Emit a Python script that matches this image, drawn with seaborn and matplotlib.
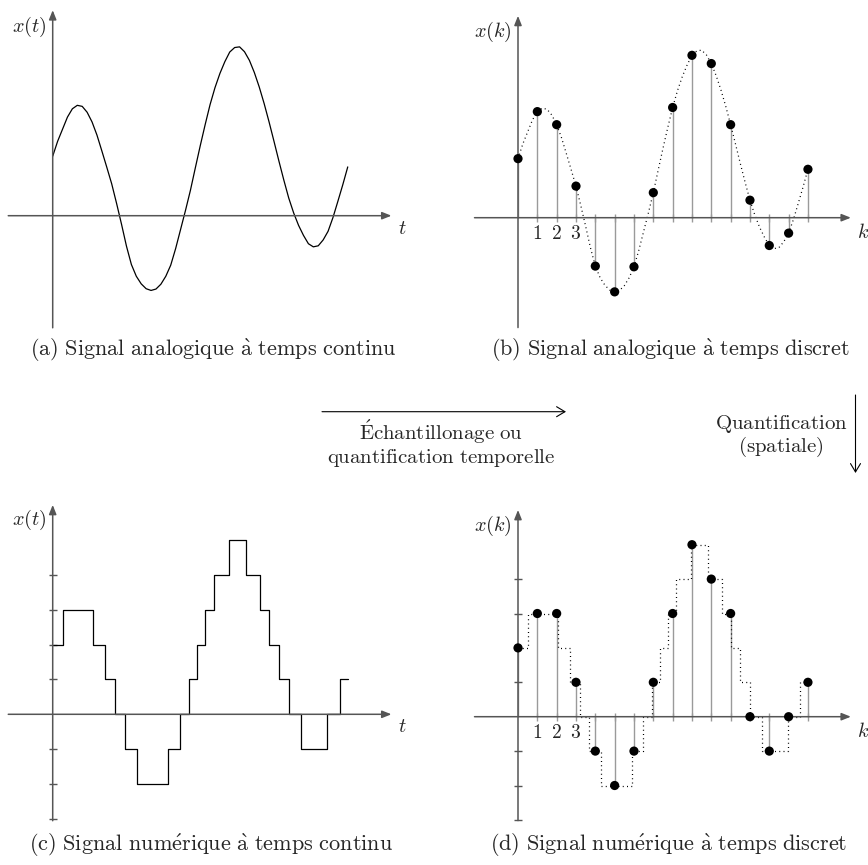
"""
Quatre vues d'un signal : analogique/numérique, temps continu/discret.
"""

import matplotlib
matplotlib.use("Agg")
import matplotlib.pyplot as plt
import seaborn as sns
import pandas as pd

curve_t = [0, 0.25, 0.5, 0.75, 1, 1.25, 1.5, 1.75, 2, 2.25, 2.5, 2.75, 3, 3.25, 3.5,
           3.75, 4, 4.25, 4.5, 4.75, 5, 5.25, 5.5, 5.75, 6, 6.25, 6.5, 6.75, 7, 7.25,
           7.5, 7.75, 8, 8.25, 8.5, 8.75, 9, 9.25, 9.5, 9.75, 10, 10.25, 10.5, 10.75,
           11, 11.25, 11.5, 11.75, 12, 12.25, 12.5, 12.75, 13, 13.25, 13.5, 13.75, 14,
           14.25, 14.5, 14.75, 15]
curve_x = [1.72, 2.15, 2.50, 2.85, 3.09, 3.19, 3.16, 2.99, 2.71, 2.33, 1.87, 1.40, 0.92,
           0.35, -0.25, -0.88, -1.41, -1.75, -1.97, -2.11, -2.16, -2.12, -1.98, -1.75,
           -1.43, -0.95, -0.40, 0.15, 0.73, 1.38, 2.02, 2.63, 3.21, 3.70, 4.11, 4.45,
           4.73, 4.86, 4.88, 4.74, 4.49, 4.14, 3.72, 3.24, 2.71, 2.15, 1.58, 1.03, 0.51,
           0.08, -0.28, -0.57, -0.81, -0.90, -0.87, -0.70, -0.45, -0.05, 0.42, 0.90, 1.41]

# Échantillons x(k)
samples_k = [0, 1, 2, 3, 4, 5, 6, 7, 8, 9, 10, 11, 12, 13, 14, 15]
samples_x = [1.72, 3.09, 2.71, 0.92, -1.41, -2.16, -1.43, 0.73, 3.21, 4.73, 4.49,
             2.71, 0.51, -0.81, -0.45, 1.41]
samples_q = [2, 3, 3, 1, -1, -2, -1, 1, 3, 5, 4, 3, 0, -1, 0, 1]

# Signal quantifié à temps continu (instants de changement de niveau)
steps_t = [0, 0.51, 2.07, 2.68, 3.19, 3.69, 4.27, 5.88, 6.47, 6.93, 7.36, 7.75, 8.19,
           8.95, 9.81, 10.54, 11.02, 11.49, 12.0, 12.63, 13.95, 14.59, 15.0]
steps_q = [2, 3, 2, 1, 0, -1, -2, -1, 0, 1, 2, 3, 4, 5, 4, 3, 2, 1, 0, -1, 0, 1, 1]

level_ticks = [-3, -2, -1, 1, 2, 3, 4]
k_labels = ["1", "2", "3"]

captions = [
    r"$\mathrm{(a)\ Signal\ analogique\ \grave{a}\ temps\ continu}$",
    r"$\mathrm{(b)\ Signal\ analogique\ \grave{a}\ temps\ discret}$",
    r"$\mathrm{(c)\ Signal\ num\acute{e}rique\ \grave{a}\ temps\ continu}$",
    r"$\mathrm{(d)\ Signal\ num\acute{e}rique\ \grave{a}\ temps\ discret}$",
]
sampling_label = (r"$\mathrm{\acute{E}chantillonage\ ou}$" + "\n"
                  + r"$\mathrm{quantification\ temporelle}$")
quant_label = r"$\mathrm{Quantification}$" + "\n" + r"$\mathrm{(spatiale)}$"

W, H = 868, 865
AXIS_GREY = "#555555"
STEM_GREY = "#9a9a9a"
LABEL_FS = 14.5
CAPTION_FS = 16
ARROW_FS = 15
TICK_FS = 14


def make_panel(fig, box, origin, scale):
    """Axes sans cadre ; box en pixels (gauche, haut, droite, bas)."""
    l, t, r, b = box
    ax = fig.add_axes([l / W, 1 - b / H, (r - l) / W, (b - t) / H])
    lims = ((l - origin[0]) / scale[0], (r - origin[0]) / scale[0],
            (origin[1] - b) / scale[1], (origin[1] - t) / scale[1])
    ax.axis("off")
    return ax, lims


def draw_axes(ax, x_from, x_to, y_from, y_to):
    style = dict(arrowstyle="-|>,head_length=0.55,head_width=0.22", color=AXIS_GREY,
                 lw=1.1, shrinkA=0, shrinkB=0, mutation_scale=10)
    ax.annotate("", xy=(x_to, 0), xytext=(x_from, 0), arrowprops=style)
    ax.annotate("", xy=(0, y_to), xytext=(0, y_from), arrowprops=style)


def label_k(ax):
    # numéros 1, 2, 3 sous l'axe des k
    for i, lab in enumerate(k_labels):
        ax.annotate("$" + lab + "$", xy=(samples_k[i + 1], 0), xytext=(0, -12.0),
                    textcoords="offset points", ha="center", va="center", fontsize=TICK_FS)


def finish(ax, lims):
    ax.set_xlim(lims[0], lims[1])
    ax.set_ylim(lims[2], lims[3])


def main():
    sns.set_theme(style="white")
    plt.rcParams["mathtext.fontset"] = "cm"
    plt.rcParams["font.family"] = ["DejaVu Serif"]

    fig = plt.figure(figsize=(W / 100, H / 100), dpi=100)
    over = fig.add_axes([0, 0, 1, 1])
    over.set_xlim(0, W)
    over.set_ylim(H, 0)
    over.axis("off")

    curve = pd.DataFrame({"t": curve_t, "x": curve_x})
    samples = pd.DataFrame({"k": samples_k, "x": samples_x, "q": samples_q})
    steps = pd.DataFrame({"t": steps_t, "q": steps_q})

    # (a) analogique, temps continu
    sa = (19.67, 34.6)
    ax_a, lim_a = make_panel(fig, (0, 0, 434, 335), (52.7, 215.7), sa)
    draw_axes(ax_a, -2.26, 17.22, -3.24, 5.94)
    sns.lineplot(data=curve, x="t", y="x", ax=ax_a, color="black", lw=0.9,
                 estimator=None, sort=False)
    finish(ax_a, lim_a)

    # (b) analogique, temps discret
    sb = (19.33, 34.33)
    ax_b, lim_b = make_panel(fig, (434, 0, 868, 335), (518, 217.7), sb)
    draw_axes(ax_b, -2.25, 17.22, -3.2, 5.88)
    sns.lineplot(data=curve, x="t", y="x", ax=ax_b, color="black", lw=0.9,
                 linestyle=(0, (0.8, 2.6)), estimator=None, sort=False)
    ax_b.vlines(samples["k"], 0, samples["x"], color=STEM_GREY, lw=1.0, zorder=1)
    ax_b.vlines(samples["k"][1:], -4 / sb[1], 4 / sb[1], color=STEM_GREY, lw=1.0, zorder=1)
    sns.scatterplot(data=samples, x="k", y="x", ax=ax_b, color="black", s=44,
                    edgecolor="none", zorder=5)
    label_k(ax_b)
    finish(ax_b, lim_b)

    # (c) numérique, temps continu
    sc = (19.67, 34.9)
    ax_c, lim_c = make_panel(fig, (0, 475, 434, 830), (52.7, 714.3), sc)
    draw_axes(ax_c, -2.26, 17.22, -3.05, 6.0)
    ax_c.hlines(level_ticks, -4 / sc[0], 4 / sc[0], color=AXIS_GREY, lw=1.0)
    sns.lineplot(data=steps, x="t", y="q", ax=ax_c, color="black", lw=0.9,
                 drawstyle="steps-post", estimator=None, sort=False)
    finish(ax_c, lim_c)

    # (d) numérique, temps discret
    sd = (19.33, 34.4)
    ax_d, lim_d = make_panel(fig, (434, 475, 868, 830), (518, 716.7), sd)
    draw_axes(ax_d, -2.25, 17.22, -3.02, 6.01)
    ax_d.hlines(level_ticks, -4 / sd[0], 4 / sd[0], color=AXIS_GREY, lw=1.0)
    sns.lineplot(data=steps, x="t", y="q", ax=ax_d, color="black", lw=0.9,
                 linestyle=(0, (0.8, 2.6)), drawstyle="steps-post",
                 estimator=None, sort=False)
    ax_d.vlines(samples["k"], 0, samples["q"], color=STEM_GREY, lw=1.0, zorder=1)
    ax_d.vlines(samples["k"][1:], -4 / sd[1], 4 / sd[1], color=STEM_GREY, lw=1.0, zorder=1)
    sns.scatterplot(data=samples, x="k", y="q", ax=ax_d, color="black", s=44,
                    edgecolor="none", zorder=5)
    label_k(ax_d)
    finish(ax_d, lim_d)

    # Noms des axes
    for x, y, s in [(29, 27, r"$x(t)$"), (402, 229, r"$t$"),
                    (492.7, 31.7, r"$x(k)$"), (862.7, 232.3, r"$k$"),
                    (29, 520, r"$x(t)$"), (402, 726.7, r"$t$"),
                    (492.7, 525.7, r"$x(k)$"), (862.7, 731.7, r"$k$")]:
        over.text(x, y, s, ha="center", va="center", fontsize=LABEL_FS)

    # Légendes
    for (x, y), s in zip([(213, 350), (670, 350), (211, 845), (669, 845)], captions):
        over.text(x, y, s, ha="center", va="center", fontsize=CAPTION_FS)

    # Flèches de passage
    arrow = dict(arrowstyle="->,head_length=0.5,head_width=0.3", color="black",
                 lw=0.8, shrinkA=0, shrinkB=0, mutation_scale=12)
    over.annotate("", xy=(566, 411.7), xytext=(322, 411.7), arrowprops=arrow)
    over.text(441.5, 443, sampling_label, ha="center", va="center",
              fontsize=ARROW_FS, linespacing=1.05, multialignment="center")
    over.annotate("", xy=(855.5, 473), xytext=(855.5, 395), arrowprops=arrow)
    over.text(781, 436, quant_label, ha="center", va="center",
              fontsize=ARROW_FS, linespacing=1.05, multialignment="center")

    fig.savefig("out.png", dpi=100)
    plt.close(fig)


if __name__ == "__main__":
    main()
